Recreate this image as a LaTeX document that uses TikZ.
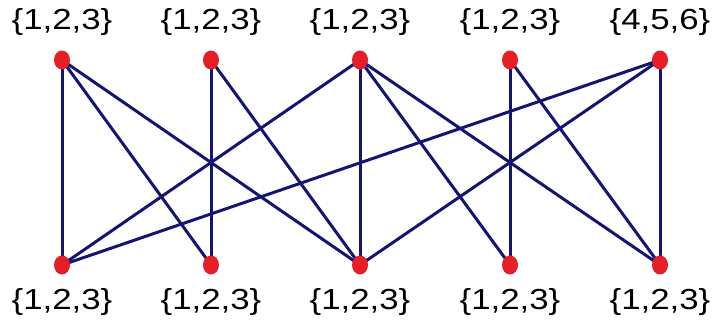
\documentclass[tikz,border=0pt]{standalone}
\usepackage{fontspec}
\setmainfont{Liberation Sans}[FakeStretch=1.2]
\usetikzlibrary{shapes.geometric}
\definecolor{dotred}{RGB}{230,30,40}
\definecolor{edgeblue}{RGB}{20,20,115}
\begin{document}
\begin{tikzpicture}[x=1pt,y=-1pt,
  vtx/.style={ellipse,fill=dotred,draw=none,minimum width=16pt,minimum height=19pt,inner sep=0pt},
  lbl/.style={font=\fontsize{29}{32}\selectfont,text=black,inner sep=0pt},
  edge/.style={draw=edgeblue,line width=3pt}]
\useasboundingbox (0,0) rectangle (714,323);
\foreach \i/\x in {1/62,2/211,3/360,4/510,5/660}{
  \coordinate (t\i) at (\x,60);
  \coordinate (b\i) at (\x,265);
}
% edges
\foreach \a/\b in {1/1,1/2,1/3,2/2,2/3,3/1,3/3,3/4,3/5,4/4,4/5,5/5,5/1,5/3}{
  \draw[edge] (t\a) -- (b\b);
}
% vertices
\foreach \i in {1,...,5}{
  \node[vtx] (vt\i) at (t\i) {};
  \node[vtx] (vb\i) at (b\i) {};
}
% labels
\node[lbl] (lt1) at (62,22) {\{1,2,3\}};
\node[lbl] (lt2) at (211,22) {\{1,2,3\}};
\node[lbl] (lt3) at (360,22) {\{1,2,3\}};
\node[lbl] (lt4) at (510,22) {\{1,2,3\}};
\node[lbl] (lt5) at (660,22) {\{4,5,6\}};
\node[lbl] (lb1) at (62,302) {\{1,2,3\}};
\node[lbl] (lb2) at (211,302) {\{1,2,3\}};
\node[lbl] (lb3) at (360,302) {\{1,2,3\}};
\node[lbl] (lb4) at (510,302) {\{1,2,3\}};
\node[lbl] (lb5) at (660,302) {\{1,2,3\}};
\end{tikzpicture}
\end{document}
